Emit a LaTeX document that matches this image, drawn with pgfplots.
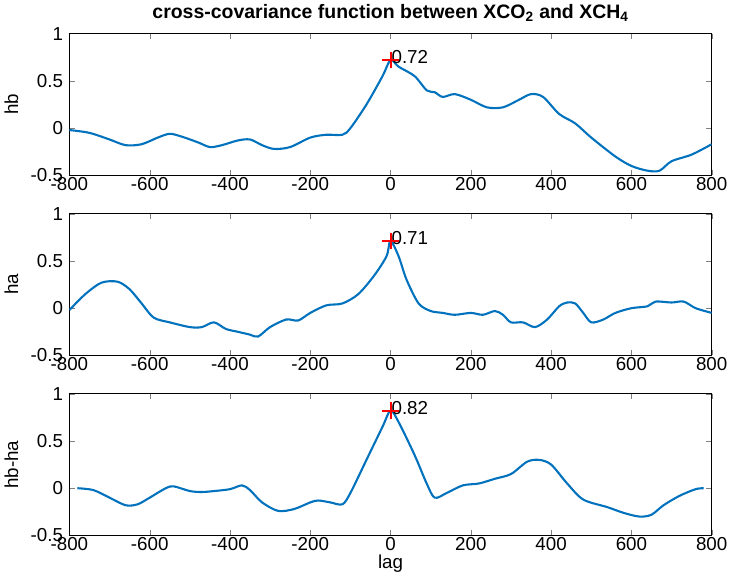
\documentclass[border=0pt]{standalone}
\usepackage{pgfplots}
\pgfplotsset{compat=1.18}
\usepgfplotslibrary{groupplots}
\usepackage{fontspec}
\setmainfont{Liberation Sans}
\definecolor{mblue}{rgb}{0,0.447,0.741}
\begin{document}
\begin{tikzpicture}[font=\fontsize{13.5}{15}\selectfont]
\begin{groupplot}[group style={group size=1 by 3, vertical sep=27.5pt},
  width=462pt, height=102pt, scale only axis,
  xmin=-800, xmax=800, ymin=-0.5, ymax=1,
  xtick={-800,-600,...,800}, ytick={-0.5,0,0.5,1},
  yticklabels={-0.5,0,0.5,1},
  xticklabels={-800,-600,-400,-200,0,200,400,600,800},
  tick align=inside, tick pos=both, major tick length=4pt,
  /pgf/number format/assume math mode=true,
  every axis plot/.append style={line width=1.5pt, color=mblue},
  ylabel style={yshift=2pt}, xticklabel style={yshift=2pt}, yticklabel style={xshift=-1pt}]
\nextgroupplot[ylabel={hb}, title={\bfseries\fontsize{14}{16}\selectfont cross-covariance function between XCO$_\mathbf{2}$ and XCH$_\mathbf{4}$}, title style={yshift=-1pt}]
\addplot[smooth] coordinates {(-800,-0.02)(-750,-0.05)(-700,-0.12)(-660,-0.18)(-620,-0.17)(-580,-0.1)(-550,-0.06)(-520,-0.09)(-480,-0.15)(-450,-0.2)(-420,-0.18)(-380,-0.13)(-350,-0.12)(-320,-0.18)(-290,-0.22)(-250,-0.2)(-200,-0.1)(-160,-0.07)(-120,-0.07)(-100,0.0)(-60,0.25)(-20,0.55)(0,0.72)(20,0.65)(60,0.55)(90,0.4)(110,0.38)(130,0.33)(160,0.36)(200,0.3)(240,0.22)(280,0.22)(320,0.3)(350,0.36)(380,0.33)(420,0.15)(460,0.05)(500,-0.1)(560,-0.3)(600,-0.4)(640,-0.45)(670,-0.45)(700,-0.35)(750,-0.28)(800,-0.17)};
\addplot[red, line width=1.5pt, only marks, mark=+, mark size=6pt] coordinates {(0,0.72)} node[black, right, inner sep=0pt, yshift=2pt] {0.72};
\nextgroupplot[ylabel={ha}]
\addplot[smooth] coordinates {(-800,-0.02)(-760,0.15)(-720,0.27)(-680,0.28)(-650,0.2)(-620,0.05)(-590,-0.1)(-550,-0.15)(-500,-0.2)(-470,-0.2)(-440,-0.15)(-410,-0.22)(-380,-0.25)(-350,-0.28)(-330,-0.3)(-300,-0.2)(-260,-0.12)(-230,-0.13)(-200,-0.05)(-160,0.03)(-120,0.05)(-80,0.15)(-40,0.35)(-10,0.55)(0,0.71)(20,0.55)(40,0.3)(70,0.05)(100,-0.03)(130,-0.05)(160,-0.07)(200,-0.05)(230,-0.07)(260,-0.03)(280,-0.07)(300,-0.15)(330,-0.15)(360,-0.2)(390,-0.12)(420,0.02)(440,0.06)(460,0.05)(480,-0.05)(500,-0.15)(530,-0.12)(560,-0.05)(600,0.0)(640,0.02)(660,0.07)(700,0.06)(730,0.07)(760,0.0)(800,-0.05)};
\addplot[red, line width=1.5pt, only marks, mark=+, mark size=6pt] coordinates {(0,0.71)} node[black, right, inner sep=0pt, yshift=2pt] {0.71};
\nextgroupplot[ylabel={hb-ha}, xlabel={lag}, xlabel style={yshift=4pt}]
\addplot[smooth] coordinates {(-780,0)(-740,-0.02)(-700,-0.1)(-660,-0.18)(-630,-0.17)(-600,-0.1)(-560,0.0)(-540,0.02)(-500,-0.03)(-470,-0.04)(-440,-0.03)(-400,-0.01)(-370,0.03)(-350,-0.02)(-320,-0.15)(-280,-0.24)(-240,-0.22)(-200,-0.15)(-180,-0.13)(-150,-0.15)(-120,-0.17)(-100,-0.05)(-60,0.3)(-20,0.65)(0,0.82)(20,0.7)(60,0.35)(90,0.05)(110,-0.1)(140,-0.05)(180,0.03)(220,0.05)(260,0.1)(300,0.15)(340,0.28)(370,0.3)(400,0.25)(440,0.05)(480,-0.12)(540,-0.2)(580,-0.26)(620,-0.3)(650,-0.28)(680,-0.18)(720,-0.08)(760,-0.01)(780,0)};
\addplot[red, line width=1.5pt, only marks, mark=+, mark size=6pt] coordinates {(0,0.82)} node[black, right, inner sep=0pt, yshift=2pt] {0.82};
\end{groupplot}
\end{tikzpicture}
\end{document}
